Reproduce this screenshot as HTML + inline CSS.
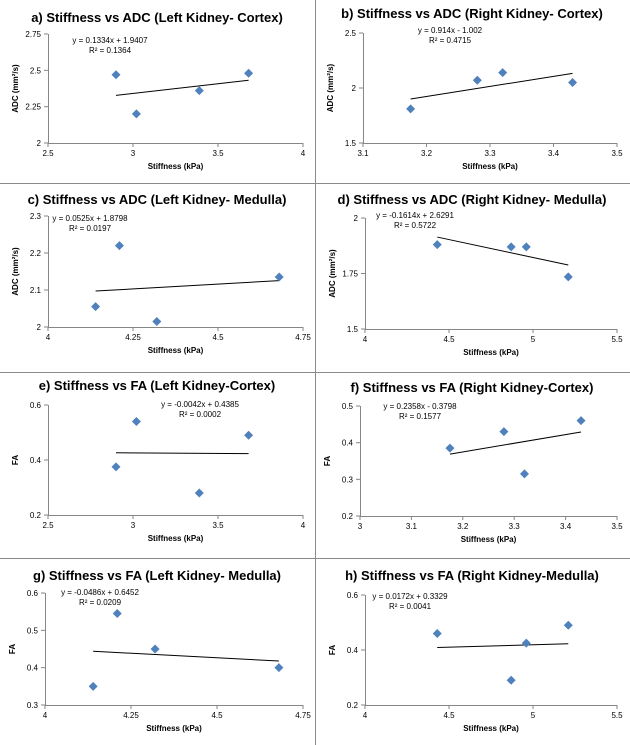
<!DOCTYPE html>
<html><head><meta charset="utf-8"><style>
body{margin:0;background:#fff;}
svg{display:block;font-family:"Liberation Sans",sans-serif;}
</style></head><body>
<svg id="c" width="630" height="745">
<line x1="315.5" y1="0" x2="315.5" y2="745" stroke="#8a8a8a" stroke-width="1"/>
<line x1="0" y1="183.5" x2="630" y2="183.5" stroke="#8a8a8a"/>
<line x1="0" y1="372.5" x2="630" y2="372.5" stroke="#8a8a8a"/>
<line x1="0" y1="558.5" x2="630" y2="558.5" stroke="#8a8a8a"/>
</svg>
<script>
const titles=["a) Stiffness vs ADC (Left Kidney- Cortex)","b) Stiffness vs ADC (Right Kidney- Cortex)","c) Stiffness vs ADC (Left Kidney- Medulla)","d) Stiffness vs ADC (Right Kidney- Medulla)","e) Stiffness vs FA (Left Kidney-Cortex)","f) Stiffness vs FA (Right Kidney-Cortex)","g) Stiffness vs FA (Left Kidney- Medulla)","h) Stiffness vs FA (Right Kidney-Medulla)"];
const xValues=[[2.9,3.02,3.39,3.68],[3.175,3.28,3.32,3.43],[4.14,4.21,4.32,4.68],[4.43,4.87,4.96,5.21],[2.9,3.02,3.39,3.68],[3.175,3.28,3.32,3.43],[4.14,4.21,4.32,4.68],[4.43,4.87,4.96,5.21]];
const yValues=[[2.47,2.2,2.36,2.48],[1.81,2.07,2.14,2.05],[2.055,2.22,2.015,2.135],[1.88,1.87,1.87,1.735],[0.375,0.54,0.28,0.49],[0.385,0.43,0.315,0.46],[0.35,0.545,0.45,0.4],[0.46,0.29,0.425,0.49]];
const slopes=[0.1334,0.914,0.0525,-0.1614,-0.0042,0.2358,-0.0486,0.0172];
const intercepts=[1.9407,-1.002,1.8798,2.6291,0.4385,-0.3798,0.6452,0.3329];
const eqLabels=["y = 0.1334x + 1.9407","y = 0.914x - 1.002","y = 0.0525x + 1.8798","y = -0.1614x + 2.6291","y = -0.0042x + 0.4385","y = 0.2358x - 0.3798","y = -0.0486x + 0.6452","y = 0.0172x + 0.3329"];
const r2Labels=["R² = 0.1364","R² = 0.4715","R² = 0.0197","R² = 0.5722","R² = 0.0002","R² = 0.1577","R² = 0.0209","R² = 0.0041"];
const xTicks=[["2.5","3","3.5","4"],["3.1","3.2","3.3","3.4","3.5"],["4","4.25","4.5","4.75"],["4","4.5","5","5.5"],["2.5","3","3.5","4"],["3","3.1","3.2","3.3","3.4","3.5"],["4","4.25","4.5","4.75"],["4","4.5","5","5.5"]];
const yTicks=[["2","2.25","2.5","2.75"],["1.5","2","2.5"],["2","2.1","2.2","2.3"],["1.5","1.75","2"],["0.2","0.4","0.6"],["0.2","0.3","0.4","0.5"],["0.3","0.4","0.5","0.6"],["0.2","0.4","0.6"]];
const yTitles=["ADC (mm²/s)","ADC (mm²/s)","ADC (mm²/s)","ADC (mm²/s)","FA","FA","FA","FA"];
// layout
const boxes=[[48,303,34,143],[363,617,33,143],[48,303,216,327],[365,617,218,329],[48,303,405,515],[360,617,406,516],[45,303,593,705],[365,617,595,705]];
const eqPos=[[110,43],[450,33],[90,221],[415,218],[200,407],[420,409],[100,595],[410,599]];
const titleY=[22,18,204,204,390,392,580,580];
const svg=document.getElementById('c');
const NS='http://www.w3.org/2000/svg';
function el(t,a,txt){const e=document.createElementNS(NS,t);for(const k in a)e.setAttribute(k,a[k]);if(txt!==undefined)e.textContent=txt;svg.appendChild(e);return e;}
for(let p=0;p<8;p++){
 const [x0,x1,y0,y1]=boxes[p];
 const xt=xTicks[p].map(Number), yt=yTicks[p].map(Number);
 const xmin=xt[0],xmax=xt[xt.length-1],ymin=yt[0],ymax=yt[yt.length-1];
 const sx=v=>x0+(v-xmin)/(xmax-xmin)*(x1-x0);
 const sy=v=>y1-(v-ymin)/(ymax-ymin)*(y1-y0);
 const cx=p%2?472:157;
 let t=el('text',{x:cx,y:titleY[p],'text-anchor':'middle','font-size':'13','font-weight':'bold',fill:'#000'},titles[p]);
 
 
 let ax=el('path',{d:`M${x0+0.5} ${y0}V${y1+0.5}H${x1}`,stroke:'#868686',fill:'none'});
 
 
 xt.forEach((v,i)=>{const X=sx(v);el('line',{x1:X,y1:y1,x2:X,y2:y1+4,stroke:'#868686'});
  const l=el('text',{x:X,y:y1+13,'text-anchor':'middle','font-size':'8',fill:'#000'},xTicks[p][i]);
  
  });
 yt.forEach((v,i)=>{const Y=sy(v);el('line',{x1:x0-4,y1:Y,x2:x0,y2:Y,stroke:'#868686'});
  const l=el('text',{x:x0-7,y:Y+3,'text-anchor':'end','font-size':'8',fill:'#000'},yTicks[p][i]);
  
  });
 let xl=el('text',{x:(x0+x1)/2,y:y1+26,'text-anchor':'middle','font-size':'8','font-weight':'bold'},'Stiffness (kPa)');
 
 
 const ym=(y0+y1)/2;
 let yl=el('text',{x:x0-30,y:ym,'text-anchor':'middle','font-size':'8','font-weight':'bold',transform:`rotate(-90 ${x0-30} ${ym})`},yTitles[p]);
 
 
 const xs=xValues[p],xa=Math.min(...xs),xb=Math.max(...xs);
 let tl=el('line',{x1:sx(xa),y1:sy(slopes[p]*xa+intercepts[p]),x2:sx(xb),y2:sy(slopes[p]*xb+intercepts[p]),stroke:'#000','stroke-width':'1'});
 
 
 xs.forEach((v,i)=>{const X=sx(v),Y=sy(yValues[p][i]);
  const d=el('path',{d:`M${X} ${Y-4.5}L${X+4.5} ${Y}L${X} ${Y+4.5}L${X-4.5} ${Y}Z`,fill:'#4f81bd'});
  
  });
 const [ex,ey]=eqPos[p];
 let e1=el('text',{x:ex,y:ey,'text-anchor':'middle','font-size':'8'},eqLabels[p]);
 
 
 let e2=el('text',{x:ex,y:ey+10,'text-anchor':'middle','font-size':'8'},r2Labels[p]);
 
 
}
</script>
</body></html>
